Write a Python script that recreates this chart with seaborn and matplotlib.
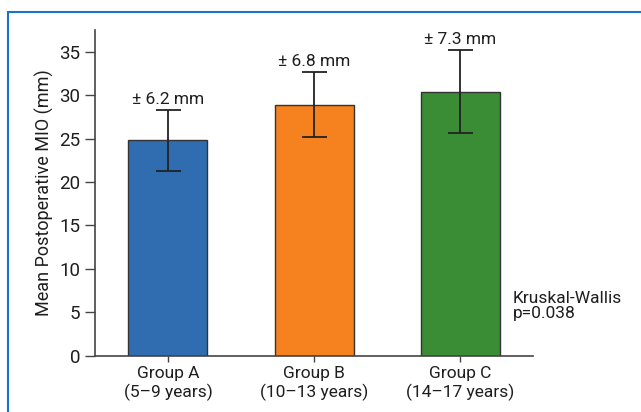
import matplotlib
matplotlib.use('Agg')
import matplotlib.pyplot as plt
import pandas as pd
import seaborn as sns
from matplotlib.patches import Rectangle

groups = ['Group A\n(5\u20139 years)', 'Group B\n(10\u201313 years)', 'Group C\n(14\u201317 years)']
means = [24.8, 28.9, 30.4]
errs = [3.5, 3.75, 4.75]
labels = ['\u00b1 6.2 mm', '\u00b1 6.8 mm', '\u00b1 7.3 mm']
colors = ['#2f6db0', '#f5821f', '#3a8c35']

sns.set_style('white')
plt.rcParams['font.family'] = ['Roboto', 'DejaVu Sans']
plt.rcParams['text.color'] = '#1e1e1e'
plt.rcParams['axes.labelcolor'] = '#1e1e1e'
plt.rcParams['xtick.color'] = '#1e1e1e'
plt.rcParams['ytick.color'] = '#1e1e1e'

df = pd.DataFrame({'group': groups, 'mean': means})

fig = plt.figure(figsize=(6.41, 4.12), dpi=100)
ax = fig.add_axes([0.148, 0.137, 0.684, 0.79])
sns.barplot(data=df, x='group', y='mean', hue='group', palette=colors,
            width=0.54, edgecolor='#333333', linewidth=1.0, saturation=1,
            legend=False, ax=ax)
ax.errorbar(range(len(groups)), means, yerr=errs, fmt='none', ecolor='#222222',
            elinewidth=1.3, capsize=9, capthick=1.3)
for i, t in enumerate(labels):
    ax.text(i, means[i] + errs[i] + 0.35, t, ha='center', va='bottom', fontsize=12.5)

ax.set_xlim(-0.5, 2.5)
ax.set_ylim(0, 37.5)
ax.set_yticks(range(0, 36, 5))
ax.set_xlabel('')
ax.set_ylabel('Mean Postoperative MIO (mm)', fontsize=13)
ax.tick_params(axis='y', labelsize=13.5, length=7, width=1, color='#444444', direction='out', left=True)
ax.tick_params(axis='x', labelsize=12.5, length=4, width=1, color='#444444', direction='out', bottom=True)
sns.despine(ax=ax)
for s in ['left', 'bottom']:
    ax.spines[s].set_color('#444444')
    ax.spines[s].set_linewidth(1.2)

fig.text(0.80, 0.222, 'Kruskal-Wallis\np=0.038', ha='left', va='bottom', fontsize=12.5, linespacing=1.0)

fig.patches.append(Rectangle((0.0125, -0.05), 1.2, 1.021, transform=fig.transFigure,
                             fill=False, edgecolor='#1a73c8', linewidth=1.5))

fig.savefig('out.png', dpi=100)
